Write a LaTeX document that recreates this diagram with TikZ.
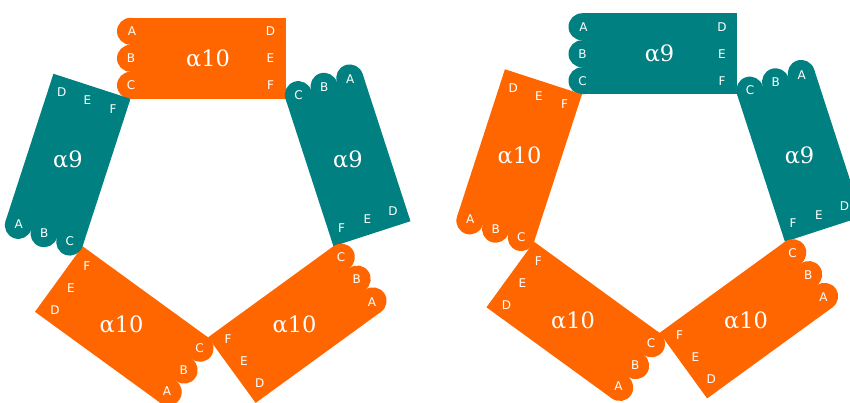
\documentclass[tikz,border=0pt]{standalone}
\usepackage{fontspec}
\setsansfont{DejaVu Sans}
\newfontfamily\greekserif{DejaVu Serif}
\definecolor{nachorange}{RGB}{255,102,0}
\definecolor{nachteal}{RGB}{0,128,128}

\newcommand{\drawsubunit}[4]{%
\begin{scope}[rotate=#4]
\fill[#2] (-77.5,106.7) rectangle (77.5,187.7);
\fill[#2] (-77.5,120.2) circle (13.5);
\fill[#2] (-77.5,147.2) circle (13.5);
\fill[#2] (-77.5,174.2) circle (13.5);
\node[site] (#1A) at (-76,174.2) {A};
\node[site] (#1B) at (-77,147.2) {B};
\node[site] (#1C) at (-77,120.2) {C};
\node[site] (#1D) at (62.5,174.2) {D};
\node[site] (#1E) at (62.5,147.2) {E};
\node[site] (#1F) at (62.5,120.2) {F};
\node[subname] (#1name) at (0,147.2) {#3};
\end{scope}}

\begin{document}
\begin{tikzpicture}[x=1pt,y=1pt,
  site/.style={text=white,inner sep=0pt,font=\sffamily\fontsize{12}{12}\selectfont},
  subname/.style={text=white,inner sep=0pt,font=\greekserif\fontsize{22.5}{23}\selectfont}]
\useasboundingbox (0,0) rectangle (850,403);

\begin{scope}[shift={(208,197.5)}]
\drawsubunit{la}{nachorange}{α10}{0}
\drawsubunit{lb}{nachteal}{α9}{-72}
\drawsubunit{lc}{nachorange}{α10}{-144}
\drawsubunit{ld}{nachorange}{α10}{-216}
\drawsubunit{le}{nachteal}{α9}{-288}
\end{scope}

\begin{scope}[shift={(659.5,202)}]
\drawsubunit{ra}{nachteal}{α9}{0}
\drawsubunit{rb}{nachteal}{α9}{-72}
\drawsubunit{rc}{nachorange}{α10}{-144}
\drawsubunit{rd}{nachorange}{α10}{-216}
\drawsubunit{re}{nachorange}{α10}{-288}
\end{scope}
\end{tikzpicture}
\end{document}
